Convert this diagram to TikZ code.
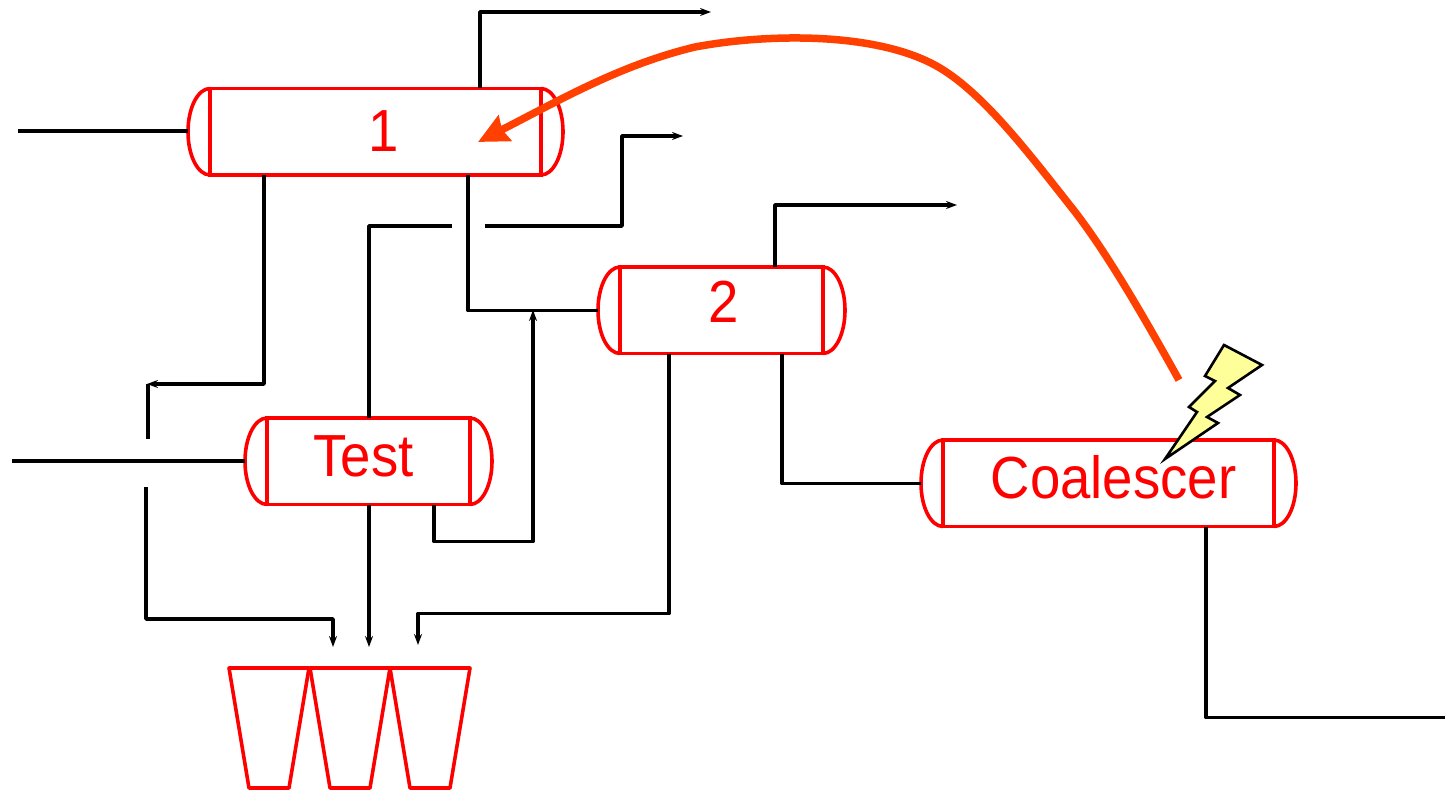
\documentclass[tikz,border=0pt]{standalone}
\usepackage{fontspec}
\setmainfont{Liberation Sans}
\usetikzlibrary{positioning,arrows.meta}
\definecolor{hotline}{HTML}{FF4000}
\definecolor{boltfill}{HTML}{FFFF99}
\newcommand{\vlabel}[2]{\raisebox{#1}[0pt][0pt]{\scalebox{1.01}[1.1]{#2}}}
\tikzset{
  vessel/.style={draw=red,line width=3.6pt,text=red,inner sep=0pt,outer sep=0pt,
    minimum height=86.5pt,font=\fontsize{54pt}{54pt}\selectfont},
  vesselcap/.style={draw=red,line width=3.6pt},
  pipe/.style={draw=black,line width=3.6pt,line join=round},
  pipeout/.style={pipe,-{Stealth[length=11pt,width=8pt]}},
  cup/.style={draw=red,line width=3.6pt,line join=round},
}
\begin{document}
\begin{tikzpicture}[x=1pt,y=-1pt]
        \useasboundingbox (0,0) rectangle (1445,794);
        % vessels
        \node [vessel,minimum width=331pt,anchor=north west] (v1) at (210,88.5) {\kern17pt\vlabel{-20pt}{1}};
        \node [vessel,minimum width=203pt,below right=92pt and 79pt of v1] (v2) {\kern4pt\vlabel{-12.5pt}{2}};
        \node [vessel,minimum width=203pt,below left=64.5pt and 150pt of v2] (test) {\kern-10pt\vlabel{-15pt}{Test}};
        \node [vessel,minimum width=331pt,below right=86.5pt and 120pt of v2] (coal) {\kern10pt\vlabel{-15pt}{Coalescer}};
        \foreach \v in {v1,v2,test,coal} {
          \draw [vesselcap] (\v.north west) arc [start angle=90,end angle=270,x radius=22pt,y radius=43.25pt];
          \draw [vesselcap] (\v.north east) arc [start angle=90,end angle=-90,x radius=22pt,y radius=43.25pt];
          \coordinate (\v w) at ([xshift=-22pt]\v.west);
        }
        % free ends and bends
        \coordinate (feed1) at (18,131);
        \coordinate (feedt) at (12,461);
        \coordinate (gas1) at (480,12);
        \coordinate (gas1e) at (711,12);
        \coordinate (gas2) at (775,205);
        \coordinate (gas2e) at (957,205);
        \coordinate (liq1) at (264,384);
        \coordinate (liq1e) at (147,384);
        \coordinate (liq1g) at (148,439);
        \coordinate (cup1s) at (146,487);
        \coordinate (cup1b) at (146,619);
        \coordinate (cup1) at (333,647);
        \coordinate (tgas) at (369,226);
        \coordinate (tgase) at (452,226);
        \coordinate (mix) at (485,226);
        \coordinate (mixb) at (622,226);
        \coordinate (mixe) at (683,136);
        \coordinate (wat1) at (468,310.5);
        \coordinate (cup2) at (369,647);
        \coordinate (tliq) at (434,541.5);
        \coordinate (tliqb) at (533,541.5);
        \coordinate (tliqe) at (533,310);
        \coordinate (liq2) at (669,613.5);
        \coordinate (cup3) at (418,645);
        \coordinate (wat2) at (782,483.5);
        \coordinate (coalo) at (1206,717.5);
        \coordinate (coale) at (1445,717.5);
        % pipes
        \draw [pipeout] (gas1 |- v1.north) -- (gas1) -- (gas1e);
        \draw [pipe] (feed1) -- (feed1 -| v1w);
        \draw [pipeout] (liq1 |- v1.south) -- (liq1) -- (liq1e);
        \draw [pipe] (liq1e -| liq1g) -- (liq1g);
        \draw [pipeout] (cup1s) -- (cup1b) -- (cup1 |- cup1b) -- (cup1);
        \draw [pipe] (feedt) -- (feedt -| testw);
        \draw [pipe] (tgas |- test.north) -- (tgas) -- (tgase);
        \draw [pipeout] (mix) -- (mixb) |- (mixe);
        \draw [pipe] (wat1 |- v1.south) -- (wat1) -- (wat1 -| v2w);
        \draw [pipeout] (cup2 |- test.south) -- (cup2);
        \draw [pipeout] (tliq |- test.south) -- (tliq) -- (tliqb) -- (tliqe);
        \draw [pipeout] (liq2 |- v2.south) -- (liq2) -- (cup3 |- liq2) -- (cup3);
        \draw [pipe] (wat2 |- v2.south) -- (wat2) -- (wat2 -| coalw);
        \draw [pipeout] (gas2 |- v2.north) -- (gas2) -- (gas2e);
        \draw [pipe] (coalo |- coal.south) -- (coalo) -- (coale);
        % cups
        \foreach \x in {229,310,390} {
          \draw [cup] (\x,668) -- ++(80,0) -- ++(-20,120) -- ++(-40,0) -- cycle;
        }
        % bolt and trend line
        \draw [black,line width=2.6pt,fill=boltfill,miter limit=10]
          (1224,345) -- (1262,365) -- (1228,388) -- (1240,395) -- (1207,417) -- (1218,423)
          -- (1165,459) -- (1197,412) -- (1189,407) -- (1215,381) -- (1205,376) -- cycle;
        \coordinate (trend) at (1179,380);
        \coordinate (trendt) at (478,142);
        \draw [hotline,line width=7.5pt,-{Stealth[length=30pt,width=28pt,inset=3pt]}] (trend)
          .. controls (1140,310) and (1105,250) .. (1072,208)
          .. controls (1030,155) and (985,95) .. (940,68)
          .. controls (880,32) and (770,33) .. (695,47)
          .. controls (620,65) and (560,100) .. (trendt);
\end{tikzpicture}
\end{document}
